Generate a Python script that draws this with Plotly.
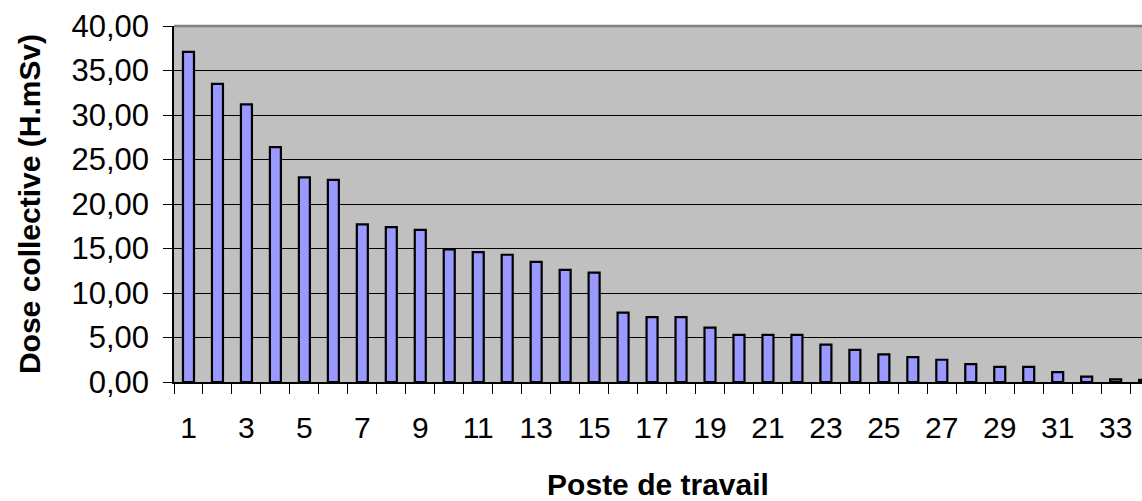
import plotly.graph_objects as go

postes = list(range(1, 35))
doses = [37.1, 33.5, 31.2, 26.4, 23.0, 22.7, 17.7, 17.4, 17.1, 14.9,
         14.6, 14.3, 13.5, 12.6, 12.3, 7.8, 7.3, 7.3, 6.1, 5.3,
         5.3, 5.3, 4.2, 3.6, 3.1, 2.8, 2.5, 2.0, 1.7, 1.7,
         1.1, 0.6, 0.3, 0.25]
label_postes = [p for p in postes if p % 2 == 1]

FONT = "Liberation Sans, Arial, sans-serif"

fig = go.Figure()
fig.add_trace(go.Bar(
    x=postes, y=doses, width=0.38,
    marker=dict(color="#9999FF", line=dict(color="black", width=2.2)),
    showlegend=False, hoverinfo="x+y",
))

fig.update_layout(
    width=1142, height=501,
    margin=dict(l=174, r=0, t=26, b=119),
    paper_bgcolor="white", plot_bgcolor="#C0C0C0",
    separators=", ",
    font=dict(family=FONT, color="black"),
)

fig.update_xaxes(
    automargin=False,
    range=[0.5, 33.91],
    tickmode="array", tickvals=label_postes, ticktext=[str(p) for p in label_postes],
    ticks="", tickfont=dict(size=30, family=FONT, color="black"),
    ticklabelstandoff=18,
    minor=dict(tickmode="linear", tick0=0.5, dtick=1, ticks="outside", ticklen=10,
               tickcolor="black", tickwidth=1, showgrid=False),
    showgrid=False, showline=True, linecolor="black", linewidth=1.5,
    title=dict(text="<b>Poste de travail</b>", font=dict(size=30, family=FONT, color="black"), standoff=38),
)

fig.update_yaxes(
    automargin=False,
    range=[0, 40], dtick=5, tick0=0, tickformat=".2f",
    ticks="outside", ticklen=9, tickcolor="black", tickwidth=1,
    tickfont=dict(size=31, family=FONT, color="black"),
    ticklabelstandoff=8,
    showgrid=True, gridcolor="black", gridwidth=1,
    showline=True, linecolor="black", linewidth=1.5, zeroline=False,
    title=dict(text="<b>Dose collective (H.mSv)</b>", font=dict(size=30, family=FONT, color="black"), standoff=22),
)

# top frame of the plot area
fig.add_shape(type="line", xref="paper", yref="paper", x0=0, x1=1, y0=1, y1=1,
              line=dict(color="#808080", width=2.5))

fig.write_html("out.html", config={"displayModeBar": False},
               post_script="document.body.style.margin='0';")
